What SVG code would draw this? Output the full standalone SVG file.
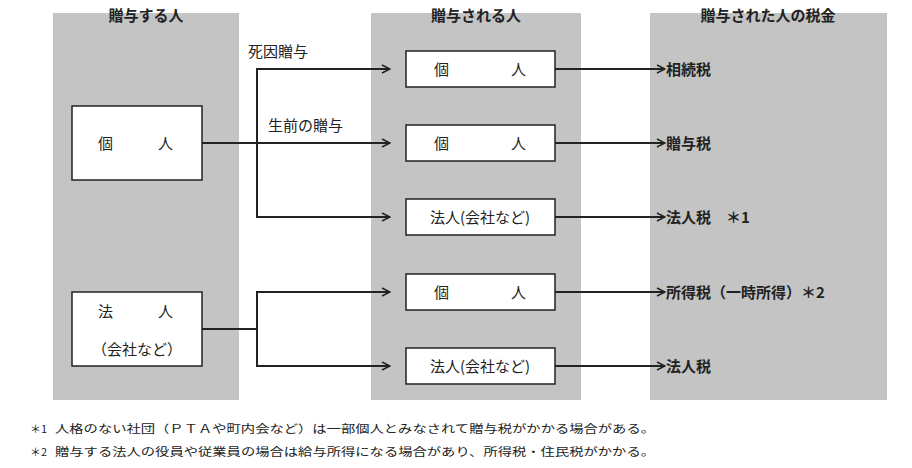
<svg xmlns="http://www.w3.org/2000/svg" width="912" height="468" viewBox="0 0 912 468">
<style>
.p{fill:#c4c4c4}
.b{fill:#fff;stroke:#222;stroke-width:1.5}
.t{font-family:"Noto Sans CJK JP",sans-serif;font-size:15px;fill:#222}
.h{font-family:"Noto Sans CJK JP",sans-serif;font-size:15px;fill:#222;font-weight:bold}
.f{font-family:"Noto Sans CJK JP",sans-serif;font-size:11px;fill:#222}
.c{fill:none;stroke:#222;stroke-width:2}
</style>
<defs><marker id="a" markerWidth="10" markerHeight="10" refX="9" refY="5" orient="auto" markerUnits="userSpaceOnUse"><path d="M1,1 L9,5 L1,9" fill="none" stroke="#222" stroke-width="1.5"/></marker></defs>
<rect class="p" x="53" y="13" width="186" height="387"/>
<rect class="p" x="371" y="13" width="210" height="387"/>
<rect class="p" x="650" y="13" width="237" height="387"/>
<text class="h" x="146" y="21" text-anchor="middle">贈与する人</text>
<text class="h" x="476" y="21" text-anchor="middle">贈与される人</text>
<text class="h" x="768" y="21" text-anchor="middle">贈与された人の税金</text>
<g id="connectors">
<path class="c" d="M202,143 H390" marker-end="url(#a)"/>
<path class="c" d="M257,217 V69 H390" marker-end="url(#a)"/>
<path class="c" d="M257,143 V217 H390" marker-end="url(#a)"/>
<path class="c" d="M202,329 H257"/>
<path class="c" d="M257,366 V292 H390" marker-end="url(#a)"/>
<path class="c" d="M257,329 V366 H390" marker-end="url(#a)"/>
<path class="c" d="M555,69 H665" marker-end="url(#a)"/>
<path class="c" d="M555,143 H665" marker-end="url(#a)"/>
<path class="c" d="M555,217 H665" marker-end="url(#a)"/>
<path class="c" d="M555,292 H665" marker-end="url(#a)"/>
<path class="c" d="M555,366 H665" marker-end="url(#a)"/>
<text class="t" x="248" y="57">死因贈与</text>
<text class="t" x="268" y="131">生前の贈与</text>
</g>
<g id="giver1"><rect class="b" x="72" y="106" width="130" height="74"/><text class="t" x="98" y="149">個</text><text class="t" x="158" y="149">人</text></g>
<g id="giver2"><rect class="b" x="72" y="292" width="130" height="74"/><text class="t" x="98" y="317">法</text><text class="t" x="158" y="317">人</text><text class="t" x="137" y="355" text-anchor="middle">（会社など）</text></g>
<g id="r1"><rect class="b" x="406" y="51" width="149" height="36"/><text class="t" x="434" y="75">個</text><text class="t" x="511" y="75">人</text></g>
<g id="r2"><rect class="b" x="406" y="125" width="149" height="36"/><text class="t" x="434" y="149">個</text><text class="t" x="511" y="149">人</text></g>
<g id="r3"><rect class="b" x="406" y="199" width="149" height="36"/><text class="t" x="480" y="223" text-anchor="middle">法人(会社など)</text></g>
<g id="r4"><rect class="b" x="406" y="274" width="149" height="36"/><text class="t" x="434" y="298">個</text><text class="t" x="511" y="298">人</text></g>
<g id="r5"><rect class="b" x="406" y="348" width="149" height="36"/><text class="t" x="480" y="372" text-anchor="middle">法人(会社など)</text></g>
<g id="taxes">
<text class="h" x="666" y="75">相続税</text>
<text class="h" x="666" y="149">贈与税</text>
<text class="h" x="666" y="223">法人税　＊1</text>
<text class="h" x="666" y="298">所得税（一時所得）＊2</text>
<text class="h" x="666" y="372">法人税</text>
</g>
<text class="f" x="30" y="433">＊1</text>
<text class="f" x="55" y="433" textLength="600" lengthAdjust="spacingAndGlyphs">人格のない社団（ＰＴＡや町内会など）は一部個人とみなされて贈与税がかかる場合がある。</text>
<text class="f" x="30" y="456">＊2</text>
<text class="f" x="55" y="456" textLength="600" lengthAdjust="spacingAndGlyphs">贈与する法人の役員や従業員の場合は給与所得になる場合があり、所得税・住民税がかかる。</text>
</svg>
